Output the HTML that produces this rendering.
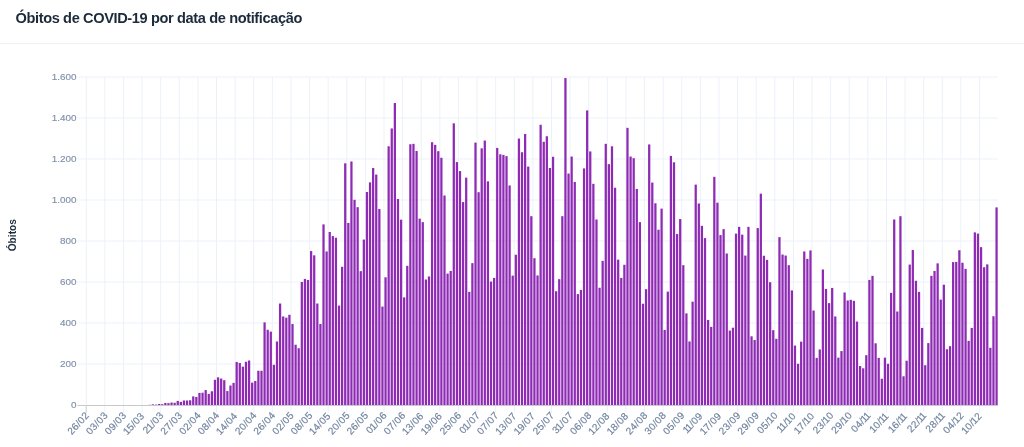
<!DOCTYPE html>
<html lang="pt-BR"><head><meta charset="utf-8"><title>Óbitos de COVID-19</title>
<style>
html,body{margin:0;padding:0;background:#fff;}
body{width:1024px;height:447px;overflow:hidden;position:relative;font-family:"Liberation Sans",sans-serif;}
h1{position:absolute;left:15.5px;top:8.6px;margin:0;font-size:14.6px;line-height:18px;font-weight:bold;color:#1c2b3c;letter-spacing:-0.38px;white-space:nowrap;}
.rule{position:absolute;left:0;top:42.5px;width:1024px;height:1.6px;background:#eef2f7;}
svg{position:absolute;left:0;top:0;}
svg text{font-family:"Liberation Sans",sans-serif;}
.yl{font-size:9.9px;letter-spacing:0px;fill:#8091ab;stroke:#8091ab;stroke-width:0.15px;text-anchor:end;}
.xl{font-size:10px;letter-spacing:0.3px;fill:#71849f;stroke:#71849f;stroke-width:0.18px;text-anchor:end;}
.yt{font-size:10.2px;font-weight:bold;fill:#1c2b3c;text-anchor:middle;}
</style></head><body>
<h1>Óbitos de COVID-19 por data de notificação</h1>
<div class="rule"></div>
<svg width="1024" height="447" viewBox="0 0 1024 447">
<g stroke="#ecf1f9" stroke-width="1" fill="none">
<line x1="77.5" y1="364.00" x2="998.12" y2="364.00"/><line x1="77.5" y1="323.00" x2="998.12" y2="323.00"/><line x1="77.5" y1="282.00" x2="998.12" y2="282.00"/><line x1="77.5" y1="241.00" x2="998.12" y2="241.00"/><line x1="77.5" y1="200.00" x2="998.12" y2="200.00"/><line x1="77.5" y1="159.00" x2="998.12" y2="159.00"/><line x1="77.5" y1="118.00" x2="998.12" y2="118.00"/><line x1="77.5" y1="77.00" x2="998.12" y2="77.00"/>
<line x1="86.25" y1="77.00" x2="86.25" y2="412.6"/><line x1="104.86" y1="77.00" x2="104.86" y2="412.6"/><line x1="123.47" y1="77.00" x2="123.47" y2="412.6"/><line x1="142.08" y1="77.00" x2="142.08" y2="412.6"/><line x1="160.69" y1="77.00" x2="160.69" y2="412.6"/><line x1="179.30" y1="77.00" x2="179.30" y2="412.6"/><line x1="197.91" y1="77.00" x2="197.91" y2="412.6"/><line x1="216.52" y1="77.00" x2="216.52" y2="412.6"/><line x1="235.13" y1="77.00" x2="235.13" y2="412.6"/><line x1="253.74" y1="77.00" x2="253.74" y2="412.6"/><line x1="272.35" y1="77.00" x2="272.35" y2="412.6"/><line x1="290.96" y1="77.00" x2="290.96" y2="412.6"/><line x1="309.57" y1="77.00" x2="309.57" y2="412.6"/><line x1="328.17" y1="77.00" x2="328.17" y2="412.6"/><line x1="346.78" y1="77.00" x2="346.78" y2="412.6"/><line x1="365.39" y1="77.00" x2="365.39" y2="412.6"/><line x1="384.00" y1="77.00" x2="384.00" y2="412.6"/><line x1="402.61" y1="77.00" x2="402.61" y2="412.6"/><line x1="421.22" y1="77.00" x2="421.22" y2="412.6"/><line x1="439.83" y1="77.00" x2="439.83" y2="412.6"/><line x1="458.44" y1="77.00" x2="458.44" y2="412.6"/><line x1="477.05" y1="77.00" x2="477.05" y2="412.6"/><line x1="495.66" y1="77.00" x2="495.66" y2="412.6"/><line x1="514.27" y1="77.00" x2="514.27" y2="412.6"/><line x1="532.88" y1="77.00" x2="532.88" y2="412.6"/><line x1="551.49" y1="77.00" x2="551.49" y2="412.6"/><line x1="570.10" y1="77.00" x2="570.10" y2="412.6"/><line x1="588.71" y1="77.00" x2="588.71" y2="412.6"/><line x1="607.32" y1="77.00" x2="607.32" y2="412.6"/><line x1="625.93" y1="77.00" x2="625.93" y2="412.6"/><line x1="644.54" y1="77.00" x2="644.54" y2="412.6"/><line x1="663.15" y1="77.00" x2="663.15" y2="412.6"/><line x1="681.76" y1="77.00" x2="681.76" y2="412.6"/><line x1="700.37" y1="77.00" x2="700.37" y2="412.6"/><line x1="718.98" y1="77.00" x2="718.98" y2="412.6"/><line x1="737.59" y1="77.00" x2="737.59" y2="412.6"/><line x1="756.20" y1="77.00" x2="756.20" y2="412.6"/><line x1="774.81" y1="77.00" x2="774.81" y2="412.6"/><line x1="793.41" y1="77.00" x2="793.41" y2="412.6"/><line x1="812.02" y1="77.00" x2="812.02" y2="412.6"/><line x1="830.63" y1="77.00" x2="830.63" y2="412.6"/><line x1="849.24" y1="77.00" x2="849.24" y2="412.6"/><line x1="867.85" y1="77.00" x2="867.85" y2="412.6"/><line x1="886.46" y1="77.00" x2="886.46" y2="412.6"/><line x1="905.07" y1="77.00" x2="905.07" y2="412.6"/><line x1="923.68" y1="77.00" x2="923.68" y2="412.6"/><line x1="942.29" y1="77.00" x2="942.29" y2="412.6"/><line x1="960.90" y1="77.00" x2="960.90" y2="412.6"/><line x1="979.51" y1="77.00" x2="979.51" y2="412.6"/>
</g>
<g fill="#8e2ab4">
<rect x="148.71" y="404.80" width="2.25" height="0.20"/><rect x="151.81" y="404.38" width="2.25" height="0.61"/><rect x="154.91" y="404.59" width="2.25" height="0.41"/><rect x="158.01" y="403.98" width="2.25" height="1.02"/><rect x="161.11" y="404.18" width="2.25" height="0.82"/><rect x="164.22" y="402.95" width="2.25" height="2.05"/><rect x="167.32" y="403.15" width="2.25" height="1.84"/><rect x="170.42" y="402.54" width="2.25" height="2.46"/><rect x="173.52" y="402.75" width="2.25" height="2.25"/><rect x="176.62" y="400.90" width="2.25" height="4.10"/><rect x="179.72" y="401.93" width="2.25" height="3.07"/><rect x="182.83" y="400.49" width="2.25" height="4.51"/><rect x="185.93" y="400.49" width="2.25" height="4.51"/><rect x="189.03" y="400.29" width="2.25" height="4.71"/><rect x="192.13" y="396.39" width="2.25" height="8.61"/><rect x="195.23" y="397.00" width="2.25" height="7.99"/><rect x="198.33" y="392.90" width="2.25" height="12.09"/><rect x="201.44" y="392.70" width="2.25" height="12.30"/><rect x="204.54" y="390.04" width="2.25" height="14.96"/><rect x="207.64" y="393.93" width="2.25" height="11.07"/><rect x="210.74" y="391.26" width="2.25" height="13.73"/><rect x="213.84" y="379.79" width="2.25" height="25.21"/><rect x="216.94" y="377.32" width="2.25" height="27.67"/><rect x="220.04" y="378.56" width="2.25" height="26.44"/><rect x="223.15" y="380.19" width="2.25" height="24.80"/><rect x="226.25" y="391.06" width="2.25" height="13.94"/><rect x="229.35" y="385.52" width="2.25" height="19.47"/><rect x="232.45" y="382.86" width="2.25" height="22.14"/><rect x="235.55" y="361.95" width="2.25" height="43.05"/><rect x="238.65" y="362.98" width="2.25" height="42.02"/><rect x="241.76" y="366.67" width="2.25" height="38.34"/><rect x="244.86" y="361.75" width="2.25" height="43.25"/><rect x="247.96" y="360.51" width="2.25" height="44.48"/><rect x="251.06" y="382.65" width="2.25" height="22.34"/><rect x="254.16" y="381.01" width="2.25" height="23.98"/><rect x="257.26" y="370.76" width="2.25" height="34.23"/><rect x="260.37" y="370.76" width="2.25" height="34.23"/><rect x="263.47" y="322.38" width="2.25" height="82.61"/><rect x="266.57" y="329.76" width="2.25" height="75.23"/><rect x="269.67" y="331.61" width="2.25" height="73.39"/><rect x="272.77" y="364.82" width="2.25" height="40.18"/><rect x="275.87" y="341.45" width="2.25" height="63.55"/><rect x="278.97" y="303.52" width="2.25" height="101.47"/><rect x="282.08" y="316.44" width="2.25" height="88.56"/><rect x="285.18" y="317.67" width="2.25" height="87.33"/><rect x="288.28" y="314.80" width="2.25" height="90.20"/><rect x="291.38" y="324.02" width="2.25" height="80.97"/><rect x="294.48" y="344.73" width="2.25" height="60.27"/><rect x="297.58" y="348.22" width="2.25" height="56.78"/><rect x="300.69" y="282.00" width="2.25" height="123.00"/><rect x="303.79" y="278.93" width="2.25" height="126.07"/><rect x="306.89" y="279.95" width="2.25" height="125.05"/><rect x="309.99" y="251.05" width="2.25" height="153.95"/><rect x="313.09" y="255.35" width="2.25" height="149.65"/><rect x="316.19" y="303.52" width="2.25" height="101.47"/><rect x="319.30" y="324.02" width="2.25" height="80.97"/><rect x="322.40" y="224.40" width="2.25" height="180.60"/><rect x="325.50" y="251.46" width="2.25" height="153.54"/><rect x="328.60" y="231.98" width="2.25" height="173.02"/><rect x="331.70" y="236.08" width="2.25" height="168.92"/><rect x="334.80" y="237.72" width="2.25" height="167.28"/><rect x="337.91" y="305.57" width="2.25" height="99.42"/><rect x="341.01" y="266.83" width="2.25" height="138.17"/><rect x="344.11" y="163.31" width="2.25" height="241.69"/><rect x="347.21" y="222.96" width="2.25" height="182.04"/><rect x="350.31" y="161.46" width="2.25" height="243.54"/><rect x="353.41" y="199.80" width="2.25" height="205.20"/><rect x="356.51" y="207.18" width="2.25" height="197.82"/><rect x="359.62" y="271.13" width="2.25" height="133.86"/><rect x="362.72" y="239.56" width="2.25" height="165.44"/><rect x="365.82" y="192.01" width="2.25" height="212.99"/><rect x="368.92" y="182.37" width="2.25" height="222.63"/><rect x="372.02" y="168.02" width="2.25" height="236.98"/><rect x="375.12" y="174.58" width="2.25" height="230.42"/><rect x="378.23" y="209.02" width="2.25" height="195.98"/><rect x="381.33" y="306.60" width="2.25" height="98.40"/><rect x="384.43" y="277.29" width="2.25" height="127.71"/><rect x="387.53" y="146.29" width="2.25" height="258.71"/><rect x="390.63" y="128.46" width="2.25" height="276.54"/><rect x="393.73" y="103.04" width="2.25" height="301.96"/><rect x="396.84" y="198.98" width="2.25" height="206.02"/><rect x="399.94" y="219.68" width="2.25" height="185.32"/><rect x="403.04" y="297.38" width="2.25" height="107.62"/><rect x="406.14" y="265.81" width="2.25" height="139.19"/><rect x="409.24" y="144.24" width="2.25" height="260.76"/><rect x="412.34" y="143.83" width="2.25" height="261.17"/><rect x="415.45" y="151.01" width="2.25" height="253.99"/><rect x="418.55" y="218.66" width="2.25" height="186.34"/><rect x="421.65" y="222.14" width="2.25" height="182.86"/><rect x="424.75" y="279.54" width="2.25" height="125.46"/><rect x="427.85" y="276.47" width="2.25" height="128.53"/><rect x="430.95" y="142.19" width="2.25" height="262.81"/><rect x="434.05" y="144.86" width="2.25" height="260.14"/><rect x="437.16" y="151.21" width="2.25" height="253.79"/><rect x="440.26" y="157.77" width="2.25" height="247.23"/><rect x="443.36" y="195.49" width="2.25" height="209.51"/><rect x="446.46" y="273.60" width="2.25" height="131.41"/><rect x="449.56" y="270.93" width="2.25" height="134.07"/><rect x="452.66" y="123.33" width="2.25" height="281.67"/><rect x="455.77" y="162.08" width="2.25" height="242.92"/><rect x="458.87" y="171.10" width="2.25" height="233.90"/><rect x="461.97" y="202.05" width="2.25" height="202.95"/><rect x="465.07" y="177.66" width="2.25" height="227.34"/><rect x="468.17" y="291.84" width="2.25" height="113.16"/><rect x="471.27" y="263.14" width="2.25" height="141.86"/><rect x="474.38" y="142.60" width="2.25" height="262.40"/><rect x="477.48" y="192.21" width="2.25" height="212.79"/><rect x="480.58" y="148.34" width="2.25" height="256.66"/><rect x="483.68" y="140.55" width="2.25" height="264.45"/><rect x="486.78" y="181.35" width="2.25" height="223.65"/><rect x="489.88" y="281.59" width="2.25" height="123.41"/><rect x="492.99" y="277.90" width="2.25" height="127.10"/><rect x="496.09" y="147.93" width="2.25" height="257.07"/><rect x="499.19" y="154.29" width="2.25" height="250.71"/><rect x="502.29" y="154.90" width="2.25" height="250.10"/><rect x="505.39" y="156.13" width="2.25" height="248.87"/><rect x="508.49" y="185.45" width="2.25" height="219.55"/><rect x="511.59" y="275.64" width="2.25" height="129.35"/><rect x="514.70" y="254.74" width="2.25" height="150.26"/><rect x="517.80" y="138.50" width="2.25" height="266.50"/><rect x="520.90" y="152.24" width="2.25" height="252.76"/><rect x="524.00" y="133.99" width="2.25" height="271.01"/><rect x="527.10" y="166.59" width="2.25" height="238.41"/><rect x="530.20" y="216.20" width="2.25" height="188.80"/><rect x="533.31" y="258.22" width="2.25" height="146.78"/><rect x="536.41" y="275.44" width="2.25" height="129.56"/><rect x="539.51" y="124.77" width="2.25" height="280.23"/><rect x="542.61" y="141.78" width="2.25" height="263.22"/><rect x="545.71" y="136.25" width="2.25" height="268.75"/><rect x="548.81" y="168.02" width="2.25" height="236.98"/><rect x="551.92" y="156.75" width="2.25" height="248.25"/><rect x="555.02" y="291.23" width="2.25" height="113.77"/><rect x="558.12" y="279.13" width="2.25" height="125.87"/><rect x="561.22" y="216.20" width="2.25" height="188.80"/><rect x="564.32" y="78.03" width="2.25" height="326.97"/><rect x="567.42" y="173.56" width="2.25" height="231.44"/><rect x="570.53" y="156.54" width="2.25" height="248.46"/><rect x="573.63" y="181.96" width="2.25" height="223.04"/><rect x="576.73" y="294.10" width="2.25" height="110.90"/><rect x="579.83" y="290.00" width="2.25" height="115.00"/><rect x="582.93" y="168.43" width="2.25" height="236.57"/><rect x="586.03" y="110.42" width="2.25" height="294.58"/><rect x="589.13" y="151.42" width="2.25" height="253.58"/><rect x="592.24" y="183.81" width="2.25" height="221.19"/><rect x="595.34" y="219.48" width="2.25" height="185.52"/><rect x="598.44" y="287.74" width="2.25" height="117.26"/><rect x="601.54" y="260.88" width="2.25" height="144.11"/><rect x="604.64" y="143.83" width="2.25" height="261.17"/><rect x="607.74" y="164.13" width="2.25" height="240.87"/><rect x="610.85" y="146.29" width="2.25" height="258.71"/><rect x="613.95" y="187.70" width="2.25" height="217.30"/><rect x="617.05" y="259.65" width="2.25" height="145.34"/><rect x="620.15" y="277.90" width="2.25" height="127.10"/><rect x="623.25" y="264.78" width="2.25" height="140.22"/><rect x="626.35" y="127.84" width="2.25" height="277.16"/><rect x="629.46" y="156.54" width="2.25" height="248.46"/><rect x="632.56" y="158.18" width="2.25" height="246.82"/><rect x="635.66" y="188.93" width="2.25" height="216.07"/><rect x="638.76" y="222.14" width="2.25" height="182.86"/><rect x="641.86" y="303.73" width="2.25" height="101.27"/><rect x="644.96" y="289.18" width="2.25" height="115.82"/><rect x="648.07" y="144.44" width="2.25" height="260.56"/><rect x="651.17" y="182.58" width="2.25" height="222.42"/><rect x="654.27" y="203.28" width="2.25" height="201.72"/><rect x="657.37" y="229.73" width="2.25" height="175.27"/><rect x="660.47" y="208.61" width="2.25" height="196.39"/><rect x="663.57" y="329.97" width="2.25" height="75.03"/><rect x="666.67" y="291.63" width="2.25" height="113.36"/><rect x="669.78" y="155.93" width="2.25" height="249.07"/><rect x="672.88" y="162.28" width="2.25" height="242.72"/><rect x="675.98" y="234.03" width="2.25" height="170.97"/><rect x="679.08" y="219.06" width="2.25" height="185.94"/><rect x="682.18" y="265.19" width="2.25" height="139.81"/><rect x="685.28" y="313.37" width="2.25" height="91.63"/><rect x="688.39" y="341.45" width="2.25" height="63.55"/><rect x="691.49" y="301.68" width="2.25" height="103.32"/><rect x="694.59" y="184.62" width="2.25" height="220.38"/><rect x="697.69" y="203.49" width="2.25" height="201.51"/><rect x="700.79" y="225.83" width="2.25" height="179.17"/><rect x="703.89" y="238.13" width="2.25" height="166.87"/><rect x="707.00" y="319.93" width="2.25" height="85.07"/><rect x="710.10" y="326.89" width="2.25" height="78.10"/><rect x="713.20" y="176.84" width="2.25" height="228.16"/><rect x="716.30" y="202.67" width="2.25" height="202.33"/><rect x="719.40" y="235.06" width="2.25" height="169.94"/><rect x="722.50" y="229.11" width="2.25" height="175.89"/><rect x="725.61" y="253.50" width="2.25" height="151.50"/><rect x="728.71" y="330.59" width="2.25" height="74.41"/><rect x="731.81" y="327.72" width="2.25" height="77.28"/><rect x="734.91" y="233.62" width="2.25" height="171.38"/><rect x="738.01" y="226.86" width="2.25" height="178.14"/><rect x="741.11" y="234.65" width="2.25" height="170.35"/><rect x="744.21" y="255.56" width="2.25" height="149.44"/><rect x="747.32" y="226.86" width="2.25" height="178.14"/><rect x="750.42" y="336.32" width="2.25" height="68.67"/><rect x="753.52" y="340.01" width="2.25" height="64.98"/><rect x="756.62" y="228.09" width="2.25" height="176.91"/><rect x="759.72" y="193.65" width="2.25" height="211.35"/><rect x="762.82" y="255.76" width="2.25" height="149.24"/><rect x="765.93" y="259.86" width="2.25" height="145.14"/><rect x="769.03" y="282.21" width="2.25" height="122.79"/><rect x="772.13" y="330.18" width="2.25" height="74.82"/><rect x="775.23" y="338.79" width="2.25" height="66.21"/><rect x="778.33" y="237.11" width="2.25" height="167.89"/><rect x="781.43" y="254.53" width="2.25" height="150.47"/><rect x="784.54" y="255.56" width="2.25" height="149.44"/><rect x="787.64" y="265.19" width="2.25" height="139.81"/><rect x="790.74" y="290.40" width="2.25" height="114.59"/><rect x="793.84" y="345.55" width="2.25" height="59.45"/><rect x="796.94" y="363.80" width="2.25" height="41.20"/><rect x="800.04" y="341.65" width="2.25" height="63.34"/><rect x="803.15" y="251.46" width="2.25" height="153.54"/><rect x="806.25" y="258.84" width="2.25" height="146.16"/><rect x="809.35" y="250.43" width="2.25" height="154.57"/><rect x="812.45" y="310.50" width="2.25" height="94.50"/><rect x="815.55" y="357.85" width="2.25" height="47.15"/><rect x="818.65" y="349.44" width="2.25" height="55.55"/><rect x="821.75" y="269.50" width="2.25" height="135.50"/><rect x="824.86" y="288.97" width="2.25" height="116.03"/><rect x="827.96" y="303.12" width="2.25" height="101.88"/><rect x="831.06" y="287.94" width="2.25" height="117.05"/><rect x="834.16" y="316.44" width="2.25" height="88.56"/><rect x="837.26" y="357.64" width="2.25" height="47.35"/><rect x="840.36" y="351.08" width="2.25" height="53.91"/><rect x="843.47" y="292.46" width="2.25" height="112.54"/><rect x="846.57" y="300.45" width="2.25" height="104.55"/><rect x="849.67" y="299.84" width="2.25" height="105.16"/><rect x="852.77" y="300.86" width="2.25" height="104.14"/><rect x="855.87" y="321.56" width="2.25" height="83.43"/><rect x="858.97" y="366.05" width="2.25" height="38.95"/><rect x="862.08" y="368.31" width="2.25" height="36.70"/><rect x="865.18" y="355.19" width="2.25" height="49.81"/><rect x="868.28" y="279.95" width="2.25" height="125.05"/><rect x="871.38" y="275.85" width="2.25" height="129.15"/><rect x="874.48" y="343.30" width="2.25" height="61.70"/><rect x="877.58" y="357.85" width="2.25" height="47.15"/><rect x="880.69" y="378.76" width="2.25" height="26.24"/><rect x="883.79" y="357.64" width="2.25" height="47.35"/><rect x="886.89" y="363.80" width="2.25" height="41.20"/><rect x="889.99" y="292.87" width="2.25" height="112.13"/><rect x="893.09" y="219.48" width="2.25" height="185.52"/><rect x="896.19" y="311.52" width="2.25" height="93.48"/><rect x="899.29" y="216.20" width="2.25" height="188.80"/><rect x="902.40" y="376.30" width="2.25" height="28.70"/><rect x="905.50" y="360.72" width="2.25" height="44.28"/><rect x="908.60" y="264.58" width="2.25" height="140.42"/><rect x="911.70" y="250.02" width="2.25" height="154.98"/><rect x="914.80" y="280.77" width="2.25" height="124.23"/><rect x="917.90" y="291.84" width="2.25" height="113.16"/><rect x="921.01" y="327.92" width="2.25" height="77.08"/><rect x="924.11" y="365.23" width="2.25" height="39.77"/><rect x="927.21" y="343.09" width="2.25" height="61.91"/><rect x="930.31" y="275.85" width="2.25" height="129.15"/><rect x="933.41" y="270.93" width="2.25" height="134.07"/><rect x="936.51" y="263.35" width="2.25" height="141.66"/><rect x="939.62" y="299.63" width="2.25" height="105.37"/><rect x="942.72" y="284.67" width="2.25" height="120.33"/><rect x="945.82" y="349.24" width="2.25" height="55.76"/><rect x="948.92" y="346.17" width="2.25" height="58.83"/><rect x="952.02" y="262.12" width="2.25" height="142.88"/><rect x="955.12" y="261.91" width="2.25" height="143.09"/><rect x="958.23" y="250.23" width="2.25" height="154.77"/><rect x="961.33" y="262.73" width="2.25" height="142.27"/><rect x="964.43" y="268.88" width="2.25" height="136.12"/><rect x="967.53" y="340.84" width="2.25" height="64.16"/><rect x="970.63" y="327.92" width="2.25" height="77.08"/><rect x="973.73" y="232.39" width="2.25" height="172.61"/><rect x="976.83" y="233.62" width="2.25" height="171.38"/><rect x="979.94" y="247.15" width="2.25" height="157.85"/><rect x="983.04" y="267.24" width="2.25" height="137.76"/><rect x="986.14" y="264.37" width="2.25" height="140.63"/><rect x="989.24" y="347.81" width="2.25" height="57.19"/><rect x="992.34" y="316.24" width="2.25" height="88.77"/><rect x="995.44" y="207.38" width="2.25" height="197.62"/>
</g>
<line x1="77.5" y1="405.5" x2="998.12" y2="405.5" stroke="#c9c9c9" stroke-width="1"/>
<line x1="86.25" y1="405.0" x2="86.25" y2="412.6" stroke="#cfcfcf" stroke-width="1"/>
<text class="yl" x="76.4" y="408.20">0</text><text class="yl" x="76.4" y="367.20">200</text><text class="yl" x="76.4" y="326.20">400</text><text class="yl" x="76.4" y="285.20">600</text><text class="yl" x="76.4" y="244.20">800</text><text class="yl" x="76.4" y="203.20">1.000</text><text class="yl" x="76.4" y="162.20">1.200</text><text class="yl" x="76.4" y="121.20">1.400</text><text class="yl" x="76.4" y="80.20">1.600</text>
<text class="yt" transform="translate(16.2,235.2) rotate(-90)">Óbitos</text>
<text class="xl" transform="translate(89.85,415.8) rotate(-47)">26/02</text><text class="xl" transform="translate(108.46,415.8) rotate(-47)">03/03</text><text class="xl" transform="translate(127.07,415.8) rotate(-47)">09/03</text><text class="xl" dx="-0.9 -0.4 0 0 0" transform="translate(145.68,415.8) rotate(-47)">15/03</text><text class="xl" dx="0 -0.9 -0.4 0 0" transform="translate(164.29,415.8) rotate(-47)">21/03</text><text class="xl" transform="translate(182.90,415.8) rotate(-47)">27/03</text><text class="xl" transform="translate(201.51,415.8) rotate(-47)">02/04</text><text class="xl" transform="translate(220.12,415.8) rotate(-47)">08/04</text><text class="xl" dx="-0.9 -0.4 0 0 0" transform="translate(238.73,415.8) rotate(-47)">14/04</text><text class="xl" transform="translate(257.34,415.8) rotate(-47)">20/04</text><text class="xl" transform="translate(275.95,415.8) rotate(-47)">26/04</text><text class="xl" transform="translate(294.56,415.8) rotate(-47)">02/05</text><text class="xl" transform="translate(313.17,415.8) rotate(-47)">08/05</text><text class="xl" dx="-0.9 -0.4 0 0 0" transform="translate(331.77,415.8) rotate(-47)">14/05</text><text class="xl" transform="translate(350.38,415.8) rotate(-47)">20/05</text><text class="xl" transform="translate(368.99,415.8) rotate(-47)">26/05</text><text class="xl" dx="0 -0.9 -0.4 0 0" transform="translate(387.60,415.8) rotate(-47)">01/06</text><text class="xl" transform="translate(406.21,415.8) rotate(-47)">07/06</text><text class="xl" dx="-0.9 -0.4 0 0 0" transform="translate(424.82,415.8) rotate(-47)">13/06</text><text class="xl" dx="-0.9 -0.4 0 0 0" transform="translate(443.43,415.8) rotate(-47)">19/06</text><text class="xl" transform="translate(462.04,415.8) rotate(-47)">25/06</text><text class="xl" dx="0 -0.9 -0.4 0 0" transform="translate(480.65,415.8) rotate(-47)">01/07</text><text class="xl" transform="translate(499.26,415.8) rotate(-47)">07/07</text><text class="xl" dx="-0.9 -0.4 0 0 0" transform="translate(517.87,415.8) rotate(-47)">13/07</text><text class="xl" dx="-0.9 -0.4 0 0 0" transform="translate(536.48,415.8) rotate(-47)">19/07</text><text class="xl" transform="translate(555.09,415.8) rotate(-47)">25/07</text><text class="xl" dx="0 -0.9 -0.4 0 0" transform="translate(573.70,415.8) rotate(-47)">31/07</text><text class="xl" transform="translate(592.31,415.8) rotate(-47)">06/08</text><text class="xl" dx="-0.9 -0.4 0 0 0" transform="translate(610.92,415.8) rotate(-47)">12/08</text><text class="xl" dx="-0.9 -0.4 0 0 0" transform="translate(629.53,415.8) rotate(-47)">18/08</text><text class="xl" transform="translate(648.14,415.8) rotate(-47)">24/08</text><text class="xl" transform="translate(666.75,415.8) rotate(-47)">30/08</text><text class="xl" transform="translate(685.36,415.8) rotate(-47)">05/09</text><text class="xl" dx="-0.9 -1.3 -0.4 0 0" transform="translate(703.97,415.8) rotate(-47)">11/09</text><text class="xl" dx="-0.9 -0.4 0 0 0" transform="translate(722.58,415.8) rotate(-47)">17/09</text><text class="xl" transform="translate(741.19,415.8) rotate(-47)">23/09</text><text class="xl" transform="translate(759.80,415.8) rotate(-47)">29/09</text><text class="xl" dx="0 0 0 -0.9 -0.4" transform="translate(778.41,415.8) rotate(-47)">05/10</text><text class="xl" dx="-0.9 -1.3 -0.4 -0.9 -0.4" transform="translate(797.01,415.8) rotate(-47)">11/10</text><text class="xl" dx="-0.9 -0.4 0 -0.9 -0.4" transform="translate(815.62,415.8) rotate(-47)">17/10</text><text class="xl" dx="0 0 0 -0.9 -0.4" transform="translate(834.23,415.8) rotate(-47)">23/10</text><text class="xl" dx="0 0 0 -0.9 -0.4" transform="translate(852.84,415.8) rotate(-47)">29/10</text><text class="xl" dx="0 0 0 -0.9 -1.3" transform="translate(871.45,415.8) rotate(-47)">04/11</text><text class="xl" dx="-0.9 -0.4 0 -0.9 -1.3" transform="translate(890.06,415.8) rotate(-47)">10/11</text><text class="xl" dx="-0.9 -0.4 0 -0.9 -1.3" transform="translate(908.67,415.8) rotate(-47)">16/11</text><text class="xl" dx="0 0 0 -0.9 -1.3" transform="translate(927.28,415.8) rotate(-47)">22/11</text><text class="xl" dx="0 0 0 -0.9 -1.3" transform="translate(945.89,415.8) rotate(-47)">28/11</text><text class="xl" dx="0 0 0 -0.9 -0.4" transform="translate(964.50,415.8) rotate(-47)">04/12</text><text class="xl" dx="-0.9 -0.4 0 -0.9 -0.4" transform="translate(983.11,415.8) rotate(-47)">10/12</text>
</svg>
</body></html>
